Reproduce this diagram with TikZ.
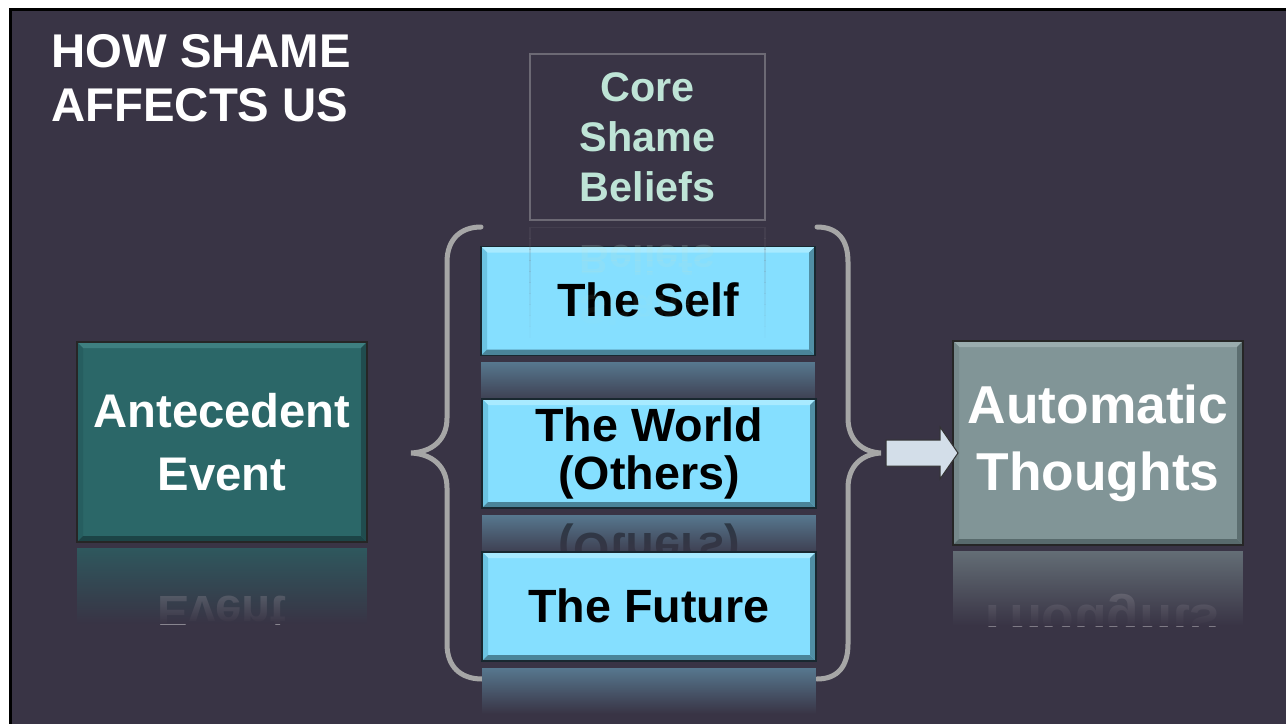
\documentclass[tikz,border=0pt]{standalone}
\usepackage{fontspec}
\setmainfont{Liberation Sans}
\usetikzlibrary{fadings}

\definecolor{bgc}{RGB}{57,52,69}
\definecolor{mint}{RGB}{190,228,214}
\definecolor{coreline}{RGB}{108,105,116}
\definecolor{bracec}{RGB}{166,166,166}
\definecolor{arrowfill}{RGB}{211,222,233}
\definecolor{cyanface}{RGB}{133,223,255}
\definecolor{cyantop}{RGB}{168,234,255}
\definecolor{cyanleft}{RGB}{108,196,226}
\definecolor{cyanbot}{RGB}{74,132,153}
\definecolor{cyanright}{RGB}{80,143,165}
\definecolor{cyanline}{RGB}{25,40,48}
\definecolor{tealface}{RGB}{43,103,104}
\definecolor{tealtop}{RGB}{62,127,128}
\definecolor{tealleft}{RGB}{38,94,96}
\definecolor{tealbot}{RGB}{28,68,70}
\definecolor{tealright}{RGB}{32,76,78}
\definecolor{autoface}{RGB}{129,149,151}
\definecolor{autotop}{RGB}{154,172,174}
\definecolor{autoleft}{RGB}{118,137,139}
\definecolor{autobot}{RGB}{88,106,108}
\definecolor{autoright}{RGB}{92,110,112}

\tikzfading[name=reflfade, top color=transparent!100, bottom color=transparent!0]

% beveled frame around a named rectangular node:
% #1 node, #2 top, #3 left, #4 bottom, #5 right, #6 outline
\newcommand\bevelframe[6]{%
  \fill[#2] (#1.north west) -- (#1.north east) -- ([shift={(-6,6)}]#1.north east) -- ([shift={(6,6)}]#1.north west) -- cycle;
  \fill[#3] (#1.north west) -- ([shift={(6,6)}]#1.north west) -- ([shift={(6,-6)}]#1.south west) -- (#1.south west) -- cycle;
  \fill[#4] (#1.south west) -- ([shift={(6,-6)}]#1.south west) -- ([shift={(-6,-6)}]#1.south east) -- (#1.south east) -- cycle;
  \fill[#5] (#1.south east) -- ([shift={(-6,-6)}]#1.south east) -- ([shift={(-6,6)}]#1.north east) -- (#1.north east) -- cycle;
  \draw[#6, line width=0.9pt] (#1.north west) rectangle (#1.south east);
}

\tikzset{
  facebox/.style={outer sep=0pt, inner sep=0pt, align=center, draw=none},
  cyanbox/.style={facebox, fill=cyanface, minimum width=250.5pt, minimum height=81.75pt,
    text=black, font=\bfseries\fontsize{35}{36}\selectfont},
  tealbox/.style={facebox, fill=tealface, minimum width=217.5pt, minimum height=150pt,
    text=white, font=\bfseries\fontsize{35.4}{47}\selectfont},
  autobox/.style={facebox, fill=autoface, minimum width=217.5pt, minimum height=153pt,
    text=white, font=\bfseries\fontsize{40}{50}\selectfont},
  corebox/.style={outer sep=0pt, inner sep=0pt, align=center, draw=coreline, line width=1.5pt,
    minimum width=176.25pt, minimum height=124.5pt, text=mint,
    font=\bfseries\fontsize{31}{37.5}\selectfont},
  mirr/.style={transform shape, inner sep=0pt, align=center},
  brace/.style={draw=bracec, line width=3.75pt, line cap=round},
  blockarrow/.style={fill=arrowfill, draw=black!80, line width=0.75pt, line join=miter},
}

\begin{document}
\begin{tikzpicture}[x=0.75pt, y=-0.75pt]
\useasboundingbox (0,0) rectangle (1286,724);

% slide panel
\fill[white] (0,0) rectangle (1286,724);
\fill[bgc] (9,8) rectangle (1286,724);
\draw[black, line width=2.25pt] (10.5,724) -- (10.5,9.5) -- (1286,9.5);

% title
\node[anchor=north west, inner sep=0pt, align=left, text=white,
      font=\bfseries\fontsize{35.5}{40.5}\selectfont] (title) at (51,34) {HOW SHAME\\AFFECTS US};

% core beliefs box
\node[corebox] (core) at (647.5,137) {Core\\Shame\\Beliefs};

% braces
\draw[brace] (481,227) .. controls (460,227) and (447,240) .. (447,262) -- (447,418)
  .. controls (447,440) and (432,452) .. (411,453)
  .. controls (432,454) and (447,466) .. (447,488) -- (447,644)
  .. controls (447,666) and (460,679) .. (482,679);
\draw[brace] (817,227) .. controls (838,227) and (848,240) .. (848,262) -- (848,418)
  .. controls (848,440) and (862,452) .. (881,453)
  .. controls (862,454) and (848,466) .. (848,488) -- (848,644)
  .. controls (848,666) and (838,679) .. (817,679);

% reflections of the belief boxes
\fill[cyanface!40!bgc] (481,362) rectangle (815,408);
\fill[bgc, path fading=reflfade] (481,362) rectangle (815,408);

\begin{scope}
  \clip (482,515) rectangle (816,560);
  \fill[cyanface!40!bgc] (482,515) rectangle (816,560);
  \begin{scope}[shift={(649,569.5)}, yscale=-1]
    \node[mirr, text=black, opacity=0.5, font=\bfseries\fontsize{35}{36}\selectfont] (reflworld) at (0,0) {The World\\(Others)};
  \end{scope}
  \fill[bgc, path fading=reflfade] (482,515) rectangle (816,560);
\end{scope}

\fill[cyanface!40!bgc] (482,668) rectangle (816,714);
\fill[bgc, path fading=reflfade] (482,668) rectangle (816,714);

% reflection of the antecedent box
\begin{scope}
  \clip (77,548) rectangle (367,624);
  \fill[tealface!70!bgc] (77,548) rectangle (367,624);
  \begin{scope}[shift={(222,645)}, yscale=-1]
    \node[mirr, text=white, opacity=0.4, font=\bfseries\fontsize{35.4}{47}\selectfont] (reflante) at (0,0) {Antecedent\\Event};
  \end{scope}
  \fill[bgc, path fading=reflfade] (77,548) rectangle (367,624);
\end{scope}

% reflection of the automatic thoughts box
\begin{scope}
  \clip (953,551) rectangle (1243,626);
  \fill[autoface!60!bgc] (953,551) rectangle (1243,626);
  \begin{scope}[shift={(1098,653)}, yscale=-1]
    \node[mirr, text=white, opacity=0.35, font=\bfseries\fontsize{40}{50}\selectfont] (reflauto) at (0,0) {Automatic\\Thoughts};
  \end{scope}
  \fill[bgc, path fading=reflfade] (953,551) rectangle (1243,626);
\end{scope}

% belief boxes
\node[cyanbox] (self) at (648,301) {\raisebox{2pt}{The Self}};
\bevelframe{self}{cyantop}{cyanleft}{cyanbot}{cyanright}{cyanline}
\node[cyanbox] (world) at (649,453.5) {The World\\(Others)};
\bevelframe{world}{cyantop}{cyanleft}{cyanbot}{cyanright}{cyanline}
\node[cyanbox] (future) at (649,606.5) {\raisebox{2pt}{The Future}};
\bevelframe{future}{cyantop}{cyanleft}{cyanbot}{cyanright}{cyanline}

% faint reflection of the core beliefs box, fading downwards
\foreach \i in {0,...,9}{
  \pgfmathsetmacro\ya{227+\i*11}
  \pgfmathsetmacro\yb{227+(\i+1)*11}
  \pgfmathsetmacro\op{0.2*(1-\i/10)}
  \begin{scope}
    \clip (520,\ya) rectangle (775,\yb);
    \draw[coreline, line width=1.5pt, opacity=\op] (530,227) rectangle (765,393);
    \begin{scope}[shift={(647.5,310)}, yscale=-1]
      \node[mirr, text=mint, opacity=\op, font=\bfseries\fontsize{31}{37.5}\selectfont] (reflcore) at (0,0) {Core\\Shame\\Beliefs};
    \end{scope}
  \end{scope}
}

% event and thoughts boxes
\node[tealbox] (ante) at (222,442) {Antecedent\\Event};
\bevelframe{ante}{tealtop}{tealleft}{tealbot}{tealright}{black!85}
\node[autobox] (auto) at (1098,443) {Automatic\\Thoughts};
\bevelframe{auto}{autotop}{autoleft}{autobot}{autoright}{black!85}

% block arrow into the thoughts box
\coordinate (tip) at (958,453);
\draw[blockarrow] ([shift={(-72,-13)}]tip) -- ([shift={(-18,-13)}]tip) -- ([shift={(-18,-26)}]tip)
  -- (tip) -- ([shift={(-18,26)}]tip) -- ([shift={(-18,13)}]tip) -- ([shift={(-72,13)}]tip) -- cycle;
\end{tikzpicture}
\end{document}
